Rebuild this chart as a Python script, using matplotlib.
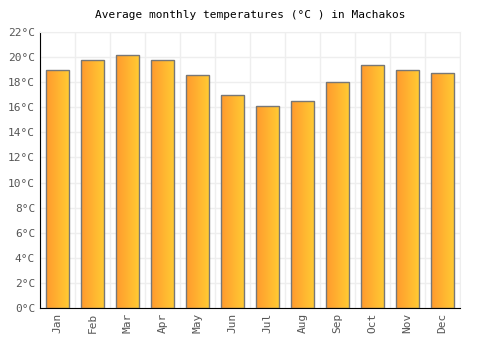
import matplotlib
matplotlib.use("Agg")
import matplotlib.pyplot as plt
import numpy as np
from matplotlib.colors import LinearSegmentedColormap

months = ["Jan", "Feb", "Mar", "Apr", "May", "Jun",
          "Jul", "Aug", "Sep", "Oct", "Nov", "Dec"]
temps = [19.0, 19.8, 20.2, 19.8, 18.6, 17.0, 16.1, 16.5, 18.0, 19.4, 19.0, 18.7]
yticks = list(range(0, 23, 2))

plt.rcParams["font.family"] = ["DejaVu Sans Mono"]

fig = plt.figure(figsize=(5, 3.5), dpi=100)
ax = fig.add_axes([0.08, 0.12, 0.84, 0.7886])

x = np.arange(len(months))
bars = ax.bar(x, temps, width=0.66, facecolor="none", edgecolor="#777777",
              linewidth=1.0, zorder=3)

cmap = LinearSegmentedColormap.from_list("warm", ["#ff9a2e", "#ffcc33"])
grad = np.linspace(0, 1, 64).reshape(1, -1)
for b in bars:
    x0, y0 = b.get_x(), b.get_y()
    w, h = b.get_width(), b.get_height()
    im = ax.imshow(grad, cmap=cmap, aspect="auto", zorder=2,
                   extent=[x0, x0 + w, y0, y0 + h], interpolation="bilinear")
    im.set_clip_path(b)

ax.set_xlim(-0.5, len(months) - 0.5)
ax.set_ylim(0, 22)
ax.set_yticks(yticks)
ax.set_yticklabels([f"{t}°C" for t in yticks])
ax.set_xticks(x)
ax.set_xticklabels(months, rotation=90)
ax.set_xticks(np.arange(-0.5, len(months), 1), minor=True)
ax.tick_params(axis="both", colors="#555555", labelsize=8, length=0)
ax.tick_params(axis="x", which="minor", length=0)

ax.grid(True, axis="y", color="#eeeeee", linewidth=1, zorder=0)
ax.grid(True, axis="x", which="minor", color="#eeeeee", linewidth=1, zorder=0)
ax.grid(False, axis="x", which="major")
ax.set_axisbelow(True)

for s in ["top", "right"]:
    ax.spines[s].set_color("#eeeeee")
for s in ["left", "bottom"]:
    ax.spines[s].set_color("black")

ax.set_title("Average monthly temperatures (°C ) in Machakos", fontsize=8,
             color="black", pad=10)

fig.savefig("out.png", dpi=100, facecolor="white")
